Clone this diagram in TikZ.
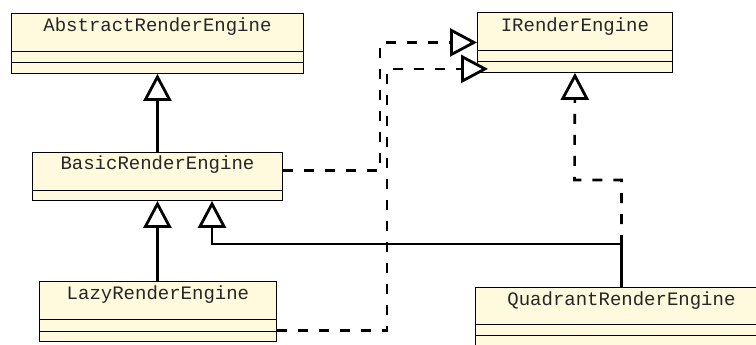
\documentclass[tikz,border=0pt]{standalone}
\usepackage{fontspec}
\setmonofont{Liberation Mono}
\usetikzlibrary{arrows.meta,calc}
\definecolor{classfill}{RGB}{255,250,221}
\tikzset{
  classbox/.style={draw=black, line width=0.9pt, fill=classfill, rectangle,
    inner sep=0pt, anchor=north west},
  classname/.style={font=\fontsize{19}{19}\selectfont\ttfamily, text=black!85,
    inner sep=0pt, anchor=base},
  divider/.style={draw=black, line width=0.9pt},
  hollowtip/.style={-{Triangle[open, fill=white, length=27pt, width=28pt, line width=2.8pt]}},
  realize/.style={line width=2.6pt, dash pattern=on 10pt off 11pt, hollowtip},
  extend/.style={line width=2.6pt, hollowtip}
}
\begin{document}
\begin{tikzpicture}[x=1pt, y=-1pt]
  \clip (0,0) rectangle (756,345);

  % class boxes
  \node[classbox, minimum width=292pt, minimum height=60pt] (abs) at (11,13) {};
  \node[classbox, minimum width=195pt, minimum height=60pt] (irn) at (477,12) {};
  \node[classbox, minimum width=250pt, minimum height=48pt] (bas) at (32,152) {};
  \node[classbox, minimum width=237pt, minimum height=60pt] (lzy) at (39,281) {};
  \node[classbox, minimum width=292pt, minimum height=62pt] (qdr) at (475,287) {};

  % compartment dividers
  \draw[divider] ($(abs.north west)+(0,38)$) -- ($(abs.north east)+(0,38)$);
  \draw[divider] ($(abs.north west)+(0,49)$) -- ($(abs.north east)+(0,49)$);
  \draw[divider] ($(irn.north west)+(0,38)$) -- ($(irn.north east)+(0,38)$);
  \draw[divider] ($(irn.north west)+(0,49)$) -- ($(irn.north east)+(0,49)$);
  \draw[divider] ($(bas.north west)+(0,38)$) -- ($(bas.north east)+(0,38)$);
  \draw[divider] ($(lzy.north west)+(0,38)$) -- ($(lzy.north east)+(0,38)$);
  \draw[divider] ($(lzy.north west)+(0,50)$) -- ($(lzy.north east)+(0,50)$);
  \draw[divider] ($(qdr.north west)+(0,37)$) -- ($(qdr.north east)+(0,37)$);
  \draw[divider] ($(qdr.north west)+(0,48)$) -- ($(qdr.north east)+(0,48)$);

  % class names
  \node[classname] (absname) at ($(abs.north)+(0,18.5)$) {AbstractRenderEngine};
  \node[classname] (irnname) at ($(irn.north)+(0,19.5)$) {IRenderEngine};
  \node[classname] (basname) at ($(bas.north)+(0,17.5)$) {BasicRenderEngine};
  \node[classname] (lzyname) at ($(lzy.north)+(0,18.3)$) {LazyRenderEngine};
  \node[classname] (qdrname) at ($(qdr.north)+(0,18)$) {QuadrantRenderEngine};

  % routing points
  \coordinate (r1) at (380,100);
  \coordinate (r2) at (387,200);
  \coordinate (r3) at (212,244);
  \coordinate (r4) at (574.5,180);

  % generalizations
  \draw[extend] (bas.north) -- (abs.south);
  \draw[extend] (lzy.north -| bas.south) -- (bas.south);
  \draw[extend] (qdr.north) |- (r3) -- (r3 |- bas.south);

  % realizations
  \draw[realize] ([yshift=6pt]bas.east) -| (r1) |- (irn.west);
  \draw[realize] ([yshift=-19pt]lzy.east) -| (r2) |- ([xshift=11pt,yshift=4pt]irn.south west);
  \draw[realize] (qdr.north) |- (r4) -- (irn.south);
\end{tikzpicture}
\end{document}
